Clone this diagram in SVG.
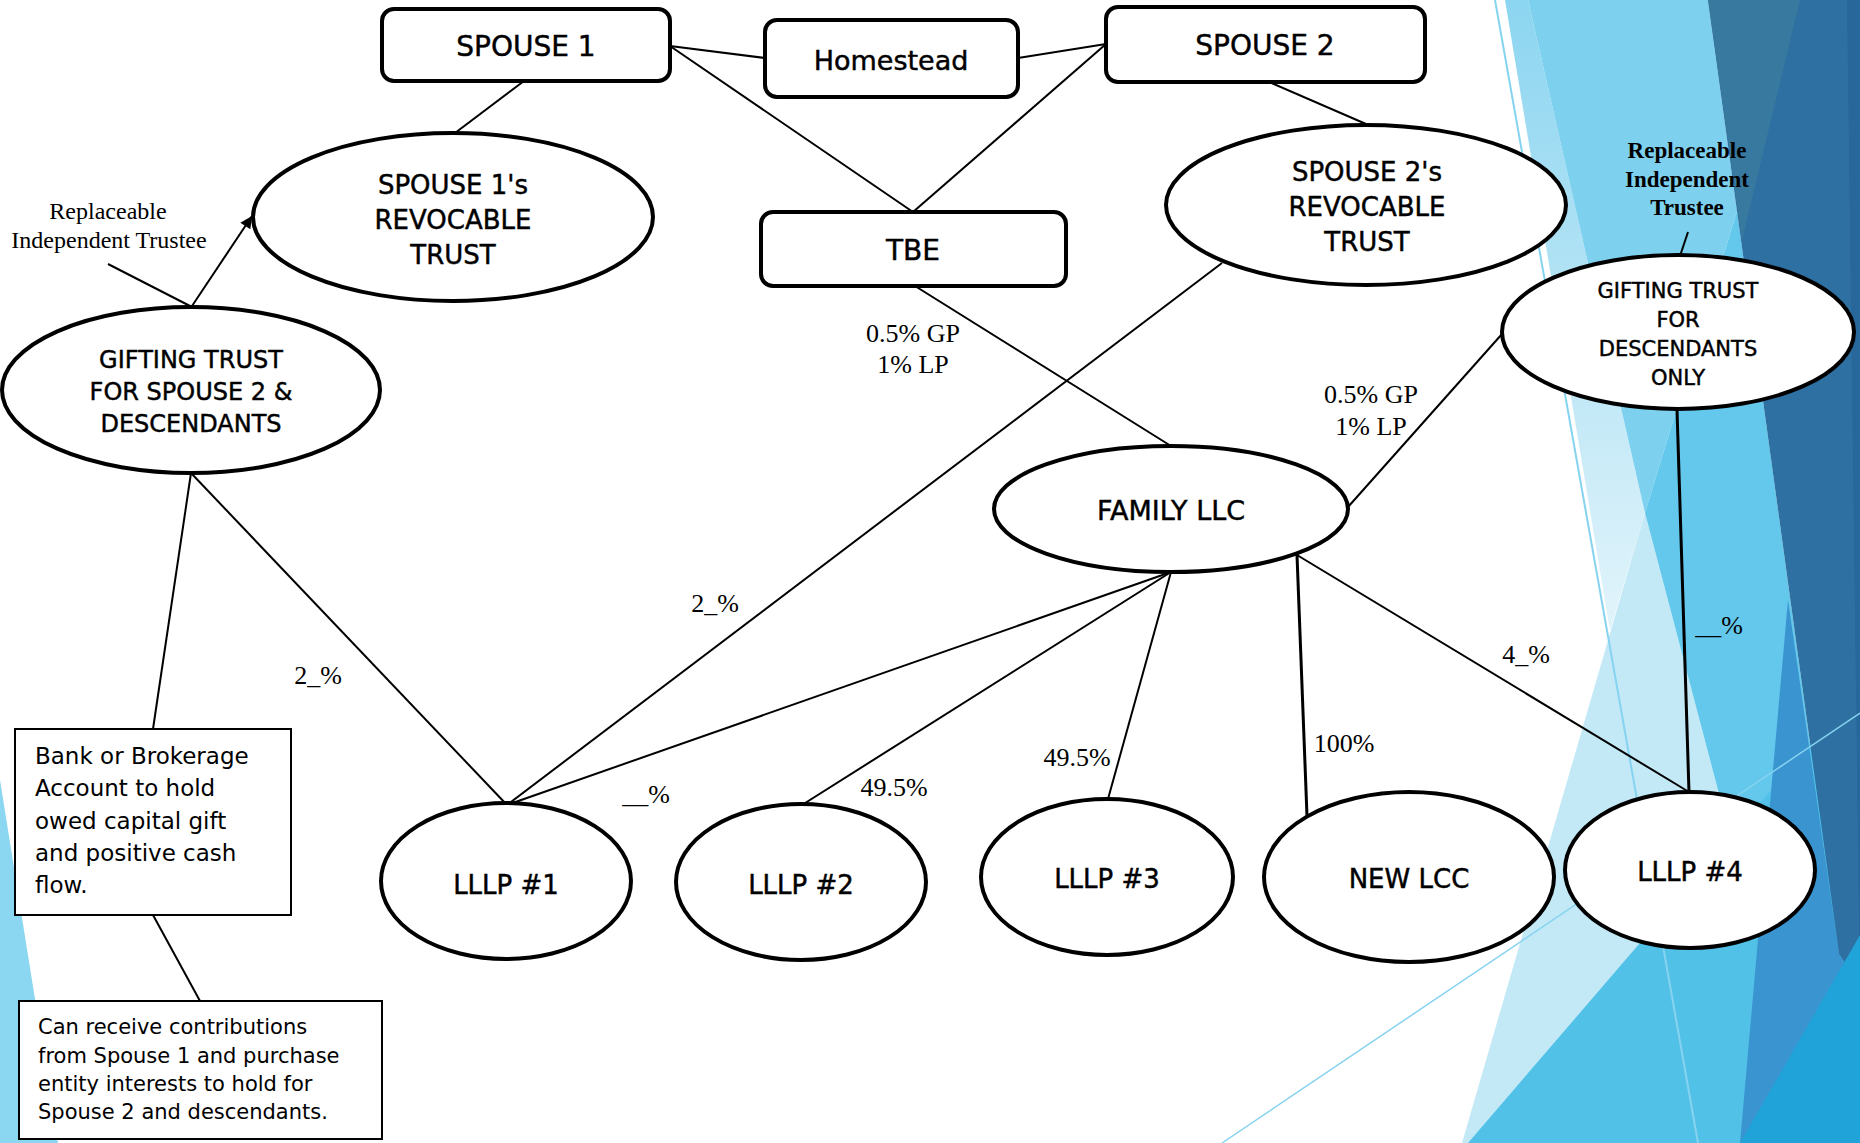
<svg xmlns="http://www.w3.org/2000/svg" width="1860" height="1143" viewBox="0 0 1860 1143">
  <defs>
    <style>
      .box { fill: #ffffff; stroke: #000000; stroke-width: 4; }
      .note { fill: #ffffff; stroke: #000000; stroke-width: 2; }
      .link { fill: none; stroke: #000000; stroke-width: 2; }
      .heavy { stroke-width: 3; }
      .lbl { font-family: "DejaVu Sans", Verdana, sans-serif; fill: #000000; stroke: #000000; stroke-width: 0.45; text-anchor: middle; }
      .notetext { font-family: "DejaVu Sans", Verdana, sans-serif; fill: #000000; }
      .pct { font-family: "Liberation Serif", "Times New Roman", serif; font-size: 26px; fill: #000000; text-anchor: middle; }
      .trustee { font-family: "Liberation Serif", "Times New Roman", serif; fill: #000000; text-anchor: middle; }
    </style>
    <linearGradient id="sliver" x1="0" y1="0" x2="0" y2="1">
      <stop offset="0" stop-color="#8cd5f0"/>
      <stop offset="1" stop-color="#e2f4fb"/>
    </linearGradient>
    <marker id="arrow" viewBox="0 0 10 10" refX="10" refY="5" markerUnits="userSpaceOnUse" markerWidth="15" markerHeight="12" orient="auto">
      <path d="M0,0 L10,5 L0,10 z" fill="#000000"/>
    </marker>
  </defs>

  <rect width="1860" height="1143" fill="#ffffff"/>

  <!-- decorative facets on the right and bottom-left edges -->
  <g id="backdrop">
    <polygon points="1505,0 1528,0 1645,513 1610,631" fill="url(#sliver)"/>
    <polygon points="1528,0 1708,0 1737,211 1645,513" fill="#7dd1ee"/>
    <polygon points="1645,513 1811,1143 1462,1143" fill="#c3e9f7"/>
    <polygon points="1737,211 1839,954 1860,990 1860,1143 1811,1143 1645,513" fill="#63c8eb"/>
    <polygon points="1468,1143 1860,687 1860,1143" fill="#52c1e8"/>
    <polygon points="1788,600 1839,954 1860,985 1860,1143 1740,1143" fill="#3a94d0"/>
    <polygon points="1708,0 1860,0 1860,985 1839,954" fill="#2e70a2"/>
    <polygon points="1708,0 1800,0 1742,240" fill="#37799f"/>
    <polygon points="1847,0 1860,0 1860,1000" fill="#27679a"/>
    <polygon points="1740,1143 1860,935 1860,1143" fill="#1fa3d9"/>
    <line x1="1495" y1="0" x2="1698" y2="1143" stroke="#86d3f0" stroke-width="2"/>
    <line x1="1222" y1="1143" x2="1860" y2="713" stroke="#86d3f0" stroke-width="1.5"/>
    <polygon points="0,780 0,1143 58,1143" fill="#8bd6f1"/>
  </g>

  <!-- ownership and relationship lines -->
  <g id="connectors">
    <line class="link" x1="670" y1="46" x2="765" y2="58"/>
    <line class="link" x1="1018" y1="58" x2="1106" y2="44"/>
    <line class="link" x1="670" y1="46" x2="913" y2="212"/>
    <line class="link" x1="1106" y1="44" x2="913" y2="212"/>
    <line class="link" x1="524" y1="81" x2="455" y2="133"/>
    <line class="link" x1="1267" y1="81" x2="1366" y2="124"/>
    <line class="link" x1="915" y1="286" x2="1171" y2="446"/>
    <line class="link" x1="1222" y1="263" x2="507" y2="805"/>
    <line class="link" x1="1502" y1="334" x2="1348" y2="507"/>
    <line class="link heavy" x1="1677" y1="410" x2="1689" y2="792"/>
    <line class="link" x1="1171" y1="572" x2="507" y2="805" stroke-width="2.5"/>
    <line class="link" x1="1171" y1="572" x2="802" y2="805"/>
    <line class="link" x1="1171" y1="572" x2="1108" y2="799"/>
    <line class="link heavy" x1="1297" y1="555" x2="1307" y2="816"/>
    <line class="link" x1="1297" y1="555" x2="1689" y2="792"/>
    <line class="link" x1="191" y1="473" x2="153" y2="729"/>
    <line class="link" x1="191" y1="473" x2="507" y2="805"/>
    <line class="link" x1="153" y1="915" x2="200" y2="1001"/>
    <line class="link" x1="1688" y1="232" x2="1680" y2="256"/>
    <line class="link" x1="108" y1="264" x2="190" y2="306"/>
    <line class="link" x1="192" y1="306" x2="252" y2="216" marker-end="url(#arrow)"/>
  </g>

  <g id="spouse1">
    <rect class="box" x="382" y="9" width="288" height="72" rx="12"/>
    <text class="lbl" x="526" y="56" font-size="28">SPOUSE 1</text>
  </g>
  <g id="homestead">
    <rect class="box" x="765" y="20" width="253" height="77" rx="12"/>
    <text class="lbl" x="891" y="70" font-size="27">Homestead</text>
  </g>
  <g id="spouse2">
    <rect class="box" x="1106" y="7" width="319" height="75" rx="12"/>
    <text class="lbl" x="1265" y="55" font-size="28">SPOUSE 2</text>
  </g>
  <g id="tbe">
    <rect class="box" x="761" y="212" width="305" height="74" rx="12"/>
    <text class="lbl" x="913" y="260" font-size="28">TBE</text>
  </g>

  <g id="spouse1-trust">
    <ellipse class="box" cx="453" cy="217" rx="200" ry="84"/>
    <text class="lbl" x="453" y="194" font-size="26">SPOUSE 1's</text>
    <text class="lbl" x="453" y="229" font-size="26">REVOCABLE</text>
    <text class="lbl" x="453" y="264" font-size="26">TRUST</text>
  </g>
  <g id="spouse2-trust">
    <ellipse class="box" cx="1366" cy="205" rx="200" ry="80"/>
    <text class="lbl" x="1367" y="181" font-size="26">SPOUSE 2's</text>
    <text class="lbl" x="1367" y="216" font-size="26">REVOCABLE</text>
    <text class="lbl" x="1367" y="251" font-size="26">TRUST</text>
  </g>
  <g id="gifting-trust-spouse2">
    <ellipse class="box" cx="191" cy="390" rx="189" ry="83"/>
    <text class="lbl" x="191" y="368" font-size="24">GIFTING TRUST</text>
    <text class="lbl" x="191" y="400" font-size="24">FOR SPOUSE 2 &amp;</text>
    <text class="lbl" x="191" y="432" font-size="24">DESCENDANTS</text>
  </g>
  <g id="gifting-trust-descendants">
    <ellipse class="box" cx="1678" cy="332" rx="176" ry="77"/>
    <text class="lbl" x="1678" y="298" font-size="21">GIFTING TRUST</text>
    <text class="lbl" x="1678" y="327" font-size="21">FOR</text>
    <text class="lbl" x="1678" y="356" font-size="21">DESCENDANTS</text>
    <text class="lbl" x="1678" y="385" font-size="21">ONLY</text>
  </g>
  <g id="family-llc">
    <ellipse class="box" cx="1171" cy="509" rx="177" ry="63"/>
    <text class="lbl" x="1171" y="520" font-size="27">FAMILY LLC</text>
  </g>
  <g id="lllp1">
    <ellipse class="box" cx="506" cy="881" rx="125" ry="78"/>
    <text class="lbl" x="506" y="894" font-size="26">LLLP #1</text>
  </g>
  <g id="lllp2">
    <ellipse class="box" cx="801" cy="882" rx="125" ry="78"/>
    <text class="lbl" x="801" y="894" font-size="26">LLLP #2</text>
  </g>
  <g id="lllp3">
    <ellipse class="box" cx="1107" cy="877" rx="126" ry="78"/>
    <text class="lbl" x="1107" y="888" font-size="26">LLLP #3</text>
  </g>
  <g id="new-lcc">
    <ellipse class="box" cx="1409" cy="877" rx="145" ry="85"/>
    <text class="lbl" x="1409" y="888" font-size="26">NEW LCC</text>
  </g>
  <g id="lllp4">
    <ellipse class="box" cx="1690" cy="870" rx="125" ry="78"/>
    <text class="lbl" x="1690" y="881" font-size="26">LLLP #4</text>
  </g>

  <g id="bank-account">
    <rect class="note" x="15" y="729" width="276" height="186"/>
    <text class="notetext" font-size="23">
      <tspan x="35" y="764">Bank or Brokerage</tspan>
      <tspan x="35" y="796">Account to hold</tspan>
      <tspan x="35" y="829">owed capital gift</tspan>
      <tspan x="35" y="861">and positive cash</tspan>
      <tspan x="35" y="893">flow.</tspan>
    </text>
  </g>
  <g id="contributions-note">
    <rect class="note" x="19" y="1001" width="363" height="138"/>
    <text class="notetext" font-size="21">
      <tspan x="38" y="1034">Can receive contributions</tspan>
      <tspan x="38" y="1063">from Spouse 1 and purchase</tspan>
      <tspan x="38" y="1091">entity interests to hold for</tspan>
      <tspan x="38" y="1119">Spouse 2 and descendants.</tspan>
    </text>
  </g>

  <!-- trustee notes and ownership percentages -->
  <g id="labels">
    <text class="trustee" x="108" y="219" font-size="24">Replaceable</text>
    <text class="trustee" x="109" y="248" font-size="24">Independent Trustee</text>
    <text class="trustee" x="1687" y="158" font-size="23" font-weight="bold">Replaceable</text>
    <text class="trustee" x="1687" y="187" font-size="23" font-weight="bold">Independent</text>
    <text class="trustee" x="1687" y="215" font-size="23" font-weight="bold">Trustee</text>
    <text class="pct" x="913" y="342">0.5% GP</text>
    <text class="pct" x="913" y="373">1% LP</text>
    <text class="pct" x="1371" y="403">0.5% GP</text>
    <text class="pct" x="1371" y="435">1% LP</text>
    <text class="pct" x="715" y="612">2_%</text>
    <text class="pct" x="318" y="684">2_%</text>
    <text class="pct" x="646" y="803">__%</text>
    <text class="pct" x="894" y="796">49.5%</text>
    <text class="pct" x="1077" y="766">49.5%</text>
    <text class="pct" x="1344" y="752">100%</text>
    <text class="pct" x="1526" y="663">4_%</text>
    <text class="pct" x="1719" y="634">__%</text>
  </g>
</svg>
